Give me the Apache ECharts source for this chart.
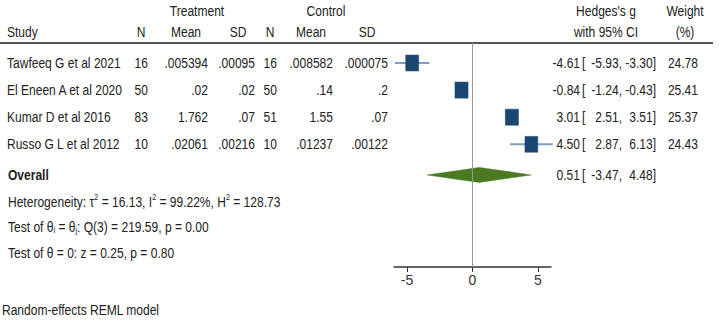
<!DOCTYPE html>
<html>
<head>
<meta charset="utf-8">
<script src="https://cdn.jsdelivr.net/npm/echarts@6/dist/echarts.min.js"></script>
<style>
  html, body { margin: 0; padding: 0; background: #fff; }
  #main { width: 724px; height: 323px; }
</style>
</head>
<body>
<div id="main"></div>
<script>
// --- data ---
var studies = ['Tawfeeq G et al 2021', 'El Eneen A et al 2020', 'Kumar D et al 2016', 'Russo G L et al 2012'];
var trtN = [16, 50, 83, 10];
var trtMean = ['.005394', '.02', '1.762', '.02061'];
var trtSD = ['.00095', '.02', '.07', '.00216'];
var ctlN = [16, 50, 51, 10];
var ctlMean = ['.008582', '.14', '1.55', '.01237'];
var ctlSD = ['.000075', '.2', '.07', '.00122'];
var hedgesG = [-4.61, -0.84, 3.01, 4.50];
var ciLow = [-5.93, -1.24, 2.51, 2.87];
var ciHigh = [-3.30, -0.43, 3.51, 6.13];
var weights = [24.78, 25.41, 25.37, 24.43];
var overall = [0.51, -3.47, 4.48]; // estimate, low, high
var heterogeneity = [16.13, 99.22, 128.73]; // tau2, I2, H2
var qTest = [3, 219.59, 0.00]; // df, Q, p
var zTest = [0.25, 0.80]; // z, p
var axisTicks = [-5, 0, 5];

// --- layout ---
var rowPx0 = 63, rowStep = 27.1;
function toRow(px) { return (px - rowPx0) / rowStep; }
var studyRows = [0, 1, 2, 3];
var overallRow = 4.13, statRows = [5.12, 6.06, 7.0], noteRow = 9.1;
var headRow1 = toRow(11), headRow2 = toRow(32), ruleRow = toRow(43);
var plotTop = toRow(43), plotBottom = toRow(267);
// column anchors (right edges for numbers, centres for headers)
var colRight = { trtN: 148, trtMean: 208, trtSD: 255, ctlN: 277, ctlMean: 333, ctlSD: 388,
	est: 580, open: 582, lo: 622, hi: 656, wt: 698 };
var colHead = { trtN: 141, trtMean: 186, trtSD: 238, ctlN: 270, ctlMean: 311, ctlSD: 367,
	treat: 197, ctl: 326, g: 606, wt: 685 };
// no narrow font installed: squeeze a regular sans horizontally
var FONT = "'Liberation Sans', Arial, sans-serif";
var SQUEEZE = 0.83;
var TXT = '#222';

function f2(v) { return v.toFixed(2); }

var cells = [];
function cell(x, row, text, align, extra) {
	var c = { x: x, row: row, text: text, align: align };
	if (extra) { for (var k in extra) c[k] = extra[k]; }
	cells.push(c);
}
// headers
cell(colHead.treat, headRow1, 'Treatment', 'center');
cell(colHead.ctl, headRow1, 'Control', 'center');
cell(colHead.g, headRow1, "Hedges's g", 'center');
cell(colHead.wt, headRow1, 'Weight', 'center');
cell(7, headRow2, 'Study', 'left');
cell(colHead.trtN, headRow2, 'N', 'center');
cell(colHead.trtMean, headRow2, 'Mean', 'center');
cell(colHead.trtSD, headRow2, 'SD', 'center');
cell(colHead.ctlN, headRow2, 'N', 'center');
cell(colHead.ctlMean, headRow2, 'Mean', 'center');
cell(colHead.ctlSD, headRow2, 'SD', 'center');
cell(colHead.g, headRow2, 'with 95% CI', 'center');
cell(colHead.wt, headRow2, '(%)', 'center');
// study rows
for (var i = 0; i < studies.length; i++) {
	var r = studyRows[i];
	cell(7, r, studies[i], 'left');
	cell(colRight.trtN, r, String(trtN[i]), 'right');
	cell(colRight.trtMean, r, trtMean[i], 'right');
	cell(colRight.trtSD, r, trtSD[i], 'right');
	cell(colRight.ctlN, r, String(ctlN[i]), 'right');
	cell(colRight.ctlMean, r, ctlMean[i], 'right');
	cell(colRight.ctlSD, r, ctlSD[i], 'right');
	cell(colRight.est, r, f2(hedgesG[i]), 'right');
	cell(colRight.open, r, '[', 'left');
	cell(colRight.lo, r, f2(ciLow[i]) + ',', 'right');
	cell(colRight.hi, r, f2(ciHigh[i]) + ']', 'right');
	cell(colRight.wt, r, f2(weights[i]), 'right');
}
// overall + stats
cell(8, overallRow, 'Overall', 'left', { bold: true });
cell(colRight.est, overallRow, f2(overall[0]), 'right');
cell(colRight.open, overallRow, '[', 'left');
cell(colRight.lo, overallRow, f2(overall[1]) + ',', 'right');
cell(colRight.hi, overallRow, f2(overall[2]) + ']', 'right');
cell(8, statRows[0], 'Heterogeneity: \u03c4{sup|2} = ' + f2(heterogeneity[0]) + ', I{sup|2} = ' +
	f2(heterogeneity[1]) + '%, H{sup|2} = ' + f2(heterogeneity[2]), 'left');
cell(8, statRows[1], 'Test of \u03b8{sub|i} = \u03b8{sub|j}: Q(' + qTest[0] + ') = ' + f2(qTest[1]) +
	', p = ' + f2(qTest[2]), 'left');
cell(8, statRows[2], 'Test of \u03b8 = 0: z = ' + f2(zTest[0]) + ', p = ' + f2(zTest[1]), 'left');
cell(2, noteRow, 'Random-effects REML model', 'left');

var studyData = [];
for (var j = 0; j < studies.length; j++) {
	studyData.push([hedgesG[j], studyRows[j], ciLow[j], ciHigh[j], weights[j]]);
}

var chart = echarts.init(document.getElementById('main'), null, { renderer: 'svg' });
var option = {
	animation: false,
	backgroundColor: '#fff',
	grid: [
		{ left: 0, right: 0, top: 0, bottom: 0 },
		{ left: 394, width: 157, top: 43, height: 224 }
	],
	xAxis: [
		{ gridIndex: 0, type: 'value', min: 0, max: 724, show: false },
		{
			gridIndex: 1, type: 'value', min: -6, max: 6,
			splitLine: { show: false },
			axisLine: { show: true, onZero: false, lineStyle: { color: '#333', width: 1.5 } },
			axisTick: { show: true, customValues: axisTicks, length: 5, lineStyle: { color: '#333', width: 1 } },
			axisLabel: { customValues: axisTicks, color: '#333', fontFamily: FONT, fontSize: 14, margin: 6 }
		}
	],
	yAxis: [
		{ gridIndex: 0, type: 'value', inverse: true, min: toRow(0), max: toRow(323), show: false },
		{ gridIndex: 1, type: 'value', inverse: true, min: plotTop, max: plotBottom, show: false }
	],
	series: [
		{
			// header rule
			type: 'line', xAxisIndex: 0, yAxisIndex: 0, symbol: 'none', silent: true,
			data: [[0, ruleRow], [713, ruleRow]],
			lineStyle: { color: '#555', width: 2 }
		},
		{
			// line of no effect
			type: 'line', xAxisIndex: 1, yAxisIndex: 1, symbol: 'none', silent: true,
			data: [[0, plotTop], [0, plotBottom]],
			lineStyle: { color: '#999', width: 1 }
		},
		{
			// table text
			type: 'custom', xAxisIndex: 0, yAxisIndex: 0, silent: true,
			data: cells.map(function (c, k) { return [c.x, c.row, k]; }),
			renderItem: function (params, api) {
				var c = cells[api.value(2)];
				var p = api.coord([c.x, c.row]);
				return {
					type: 'text', x: p[0], y: p[1], scaleX: SQUEEZE,
					style: {
						text: c.text, align: c.align, verticalAlign: 'middle',
						fontFamily: FONT, fontSize: 14.5, fontWeight: c.bold ? 'bold' : 'normal', fill: TXT,
						rich: {
							sup: { fontFamily: FONT, fontSize: 8.5, fill: TXT, padding: [0, 0, 8, 0] },
							sub: { fontFamily: FONT, fontSize: 8.5, fill: TXT, padding: [6, 0, 0, 0] }
						}
					}
				};
			}
		},
		{
			// study estimates
			type: 'custom', xAxisIndex: 1, yAxisIndex: 1, silent: true,
			data: studyData,
			renderItem: function (params, api) {
				var c = api.coord([api.value(0), api.value(1)]);
				var lo = api.coord([api.value(2), api.value(1)]);
				var hi = api.coord([api.value(3), api.value(1)]);
				var s = Math.sqrt(api.value(4) / 25);
				var w = 13 * s, h = 16 * s;
				return {
					type: 'group',
					children: [
						{ type: 'line', shape: { x1: lo[0], y1: lo[1], x2: hi[0], y2: hi[1] },
							style: { stroke: '#7f9dbd', lineWidth: 2 } },
						{ type: 'rect', shape: { x: c[0] - w / 2, y: c[1] - h / 2, width: w, height: h },
							style: { fill: '#1a476f', stroke: '#1a476f', lineWidth: 0.5 } }
					]
				};
			}
		},
		{
			// overall diamond
			type: 'custom', xAxisIndex: 1, yAxisIndex: 1, silent: true,
			data: [[overall[0], overallRow, overall[1], overall[2]]],
			renderItem: function (params, api) {
				var c = api.coord([api.value(0), api.value(1)]);
				var lo = api.coord([api.value(2), api.value(1)]);
				var hi = api.coord([api.value(3), api.value(1)]);
				return {
					type: 'polygon',
					shape: { points: [[lo[0], lo[1]], [c[0], c[1] - 7.5], [hi[0], hi[1]], [c[0], c[1] + 7.5]] },
					style: { fill: '#4a7a22', stroke: '#4a7a22', lineWidth: 0.5 }
				};
			}
		}
	]
};
chart.setOption(option);
</script>
</body>
</html>
